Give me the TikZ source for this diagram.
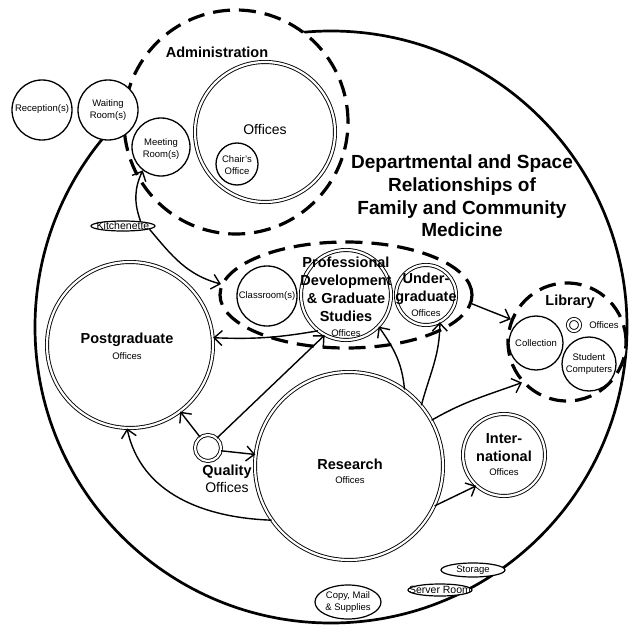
\documentclass[tikz,border=0pt]{standalone}
\usepackage{fontspec}
\setmainfont{Liberation Sans}
\usetikzlibrary{positioning,shapes.geometric,arrows.meta}
\newcommand*{\hdg}{\fontsize{14.5}{18}\selectfont\bfseries}
\newcommand*{\ttl}{\fontsize{19}{22.7}\selectfont\bfseries}
\newcommand*{\mdt}{\fontsize{14}{17}\selectfont}
\newcommand*{\smt}{\fontsize{9.5}{12}\selectfont}
\newcommand*{\nkt}{\fontsize{10.5}{12}\selectfont}

\begin{document}
\begin{tikzpicture}[x=1pt,y=1pt,
  room/.style={circle,draw,line width=1.3pt,fill=white,inner sep=0pt},
  suite/.style={circle,draw,line width=0.9pt,double=white,double distance=2.2pt,fill=white,inner sep=0pt},
  zone/.style={draw,line width=3.2pt,dash pattern=on 17pt off 9pt,fill=white,inner sep=0pt},
  nook/.style={ellipse,draw,line width=1.2pt,fill=white,inner sep=0pt},
  hd/.style={font=\hdg,align=center,inner sep=0pt},
  md/.style={font=\mdt,align=center,inner sep=0pt},
  sm/.style={font=\smt,align=center,inner sep=0pt},
  conn/.style={line width=1.4pt,-{Straight Barb[length=8pt,width=15pt]}}]
\useasboundingbox (0,0) rectangle (629,-631);
% Whole department is the big circle (dept)
\node [circle,draw,line width=2.7pt,inner sep=0pt,minimum size=592pt] (dept) at (331,-327) {};
% Administration zone hides the top left of (dept)
\node [zone,circle,minimum size=224pt] (admin) at (236,-122) {};
\node [room,minimum size=60pt] (recep) at (42,-110) {};
\node [room,minimum size=60pt] (wait) at (108,-110) {};
\node [room,minimum size=58pt] (meet) at (161,-147) {};
\node [suite,minimum size=140pt] (offc) at (265,-132) {};
\node [room,minimum size=42pt] (chair) at (237,-164) {};
\node [nook,minimum width=64pt,minimum height=10pt] (kit) at (123,-226) {};
% Teaching zone: classroom, PD & graduate studies, undergraduate
\node [zone,ellipse,minimum width=252pt,minimum height=106pt] (pdz) at (346,-295) {};
\node [room,minimum size=60pt] (class) at (267,-296) {};
\node [suite,minimum size=90pt] (pdgs) at (346,-295) {};
\node [suite,minimum size=60pt] (under) at (426,-295) {};
% Library zone on the right edge of (dept)
\node [zone,circle,minimum size=118pt] (lib) at (567,-342) {};
\node [room,minimum size=54pt] (coll) at (536,-343) {};
\node [suite,minimum size=12pt] (liboff) at (574,-325) {};
\node [room,minimum size=54pt] (stud) at (589,-364) {};
% Offices in the lower half
\node [suite,minimum size=166pt] (postg) at (130,-345) {};
\node [suite,minimum size=26pt] (qual) at (208,-448) {};
\node [suite,minimum size=188pt] (res) at (349,-466) {};
\node [suite,minimum size=82pt] (intl) at (504,-455) {};
\node [nook,minimum width=64pt,minimum height=14pt] (stor) at (473,-570) {};
\node [nook,minimum width=64pt,minimum height=12pt] (serv) at (440,-590) {};
\node [nook,minimum width=66pt,minimum height=34pt] (copy) at (348,-602) {};
% Texts
\node [font=\ttl,align=center,inner sep=0pt] (title) at (462,-196)
  {Departmental and Space\\Relationships of\\Family and Community\\Medicine};
\node [hd] (admin-t) at (217,-52) {Administration};
\node [md] (offc-t) at (265,-129) {Offices};
\node [sm] (chair-t) at (237,-165) {Chair's\\Office};
\node [sm] (meet-t) at (161,-149) {Meeting\\Room(s)};
\node [sm] (wait-t) at (108,-110) {Waiting\\Room(s)};
\node [sm] (recep-t) at (42,-109) {Reception(s)};
\node [font=\nkt,inner sep=0pt] (kit-t) at (123,-226) {Kitchenette};
\node [sm] (class-t) at (267,-296) {Classroom(s)};
\node [hd] (pdgs-t) at (346,-289) {Professional\\Development\\\& Graduate\\Studies};
\node [sm] (pdgs-o) at (346,-333) {Offices};
\node [hd] (under-t) at (426,-289) {Under-\\graduate};
\node [sm] (under-o) at (426,-313) {Offices};
\node [hd] (lib-t) at (570,-302) {Library};
\node [sm] (coll-t) at (536,-343) {Collection};
\node [sm] (liboff-t) at (604,-325) {Offices};
\node [sm] (stud-t) at (589,-364) {Student\\Computers};
\node [hd] (postg-t) at (127,-340) {Postgraduate};
\node [sm] (postg-o) at (127,-356) {Offices};
\node [hd] (res-t) at (350,-464) {Research};
\node [sm] (res-o) at (350,-480) {Offices};
\node [hd] (intl-t) at (504,-448) {Inter-\\national};
\node [sm] (intl-o) at (504,-472) {Offices};
\node [hd] (qual-t) at (227,-472) {Quality};
\node [md] (qual-o) at (227,-487) {Offices};
\node [sm] (stor-t) at (473,-570) {Storage};
\node [font=\nkt,inner sep=0pt] (serv-t) at (440,-590) {Server Room};
\node [sm] (copy-t) at (348,-602) {Copy, Mail\\\& Supplies};
% Relationships
\draw [conn] (kit.15) to[out=110,in=245] (meet.232);
\draw [conn] (kit.-7) to[out=-50,in=165] (pdz.175);
\draw [conn] (pdgs.232) to[bend left=6] (postg.5);
\draw [conn] (qual.48) -- (pdgs.242);
\draw [conn] (qual.126) -- (postg.-53);
\draw [conn] (qual.-12) -- (res.173);
\draw [conn] (res.215) to[out=178,in=-78] (postg.268);
\draw [conn] (res.54) to[out=95,in=-55] (pdgs.-44);
\draw [conn] (res.40) to[out=75,in=-90] (under.-63);
\draw [conn] (pdz.-4) -- (lib.158);
\draw [conn] (res.29) to[out=30,in=200] (lib.222);
\draw [conn] (res.-25) -- (intl.228);
\end{tikzpicture}
\end{document}
